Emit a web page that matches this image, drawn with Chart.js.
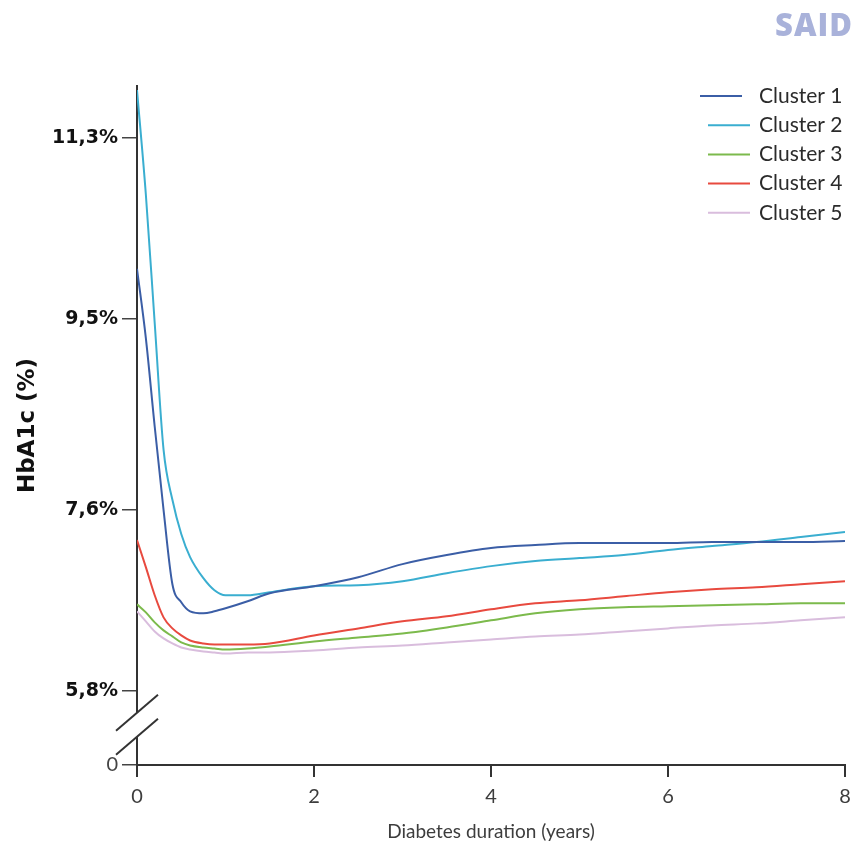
<!DOCTYPE html>
<html>
<head>
<meta charset="utf-8">
<title>HbA1c by cluster</title>
<script src="https://cdn.jsdelivr.net/npm/chart.js@4.4.0/dist/chart.umd.min.js"></script>
<style>
  body { margin: 0; background: #fff; overflow: hidden; }
  #wrap { position: relative; width: 851px; height: 843px; overflow: hidden; }
  #said { position: absolute; left: 775px; top: 3px; font-family: "Open Sans"; font-weight: 800; font-size: 31px; letter-spacing: 1px; color: #a9b2da; white-space: nowrap; }
</style>
</head>
<body>
<div id="wrap">
  <canvas id="myChart" width="851" height="843"></canvas>
  <div id="said">SAID</div>
</div>
<script>
// Global variables
var years = [0, 0.1, 0.2, 0.3, 0.4, 0.5, 0.6, 0.75, 0.875, 1, 1.25, 1.5, 2, 2.5, 3, 3.5, 4, 4.5, 5, 5.5, 6, 6.5, 7, 7.5, 8];

var cluster1 = [10.00, 9.31, 8.43, 7.60, 6.86, 6.68, 6.59, 6.57, 6.59, 6.62, 6.69, 6.77, 6.84, 6.93, 7.06, 7.15, 7.22, 7.25, 7.27, 7.27, 7.27, 7.28, 7.28, 7.28, 7.29];
var cluster2 = [11.78, 10.74, 9.46, 8.20, 7.70, 7.36, 7.13, 6.92, 6.80, 6.75, 6.75, 6.78, 6.84, 6.85, 6.89, 6.97, 7.04, 7.09, 7.12, 7.15, 7.20, 7.24, 7.28, 7.33, 7.38];
var cluster3 = [6.66, 6.58, 6.48, 6.40, 6.34, 6.28, 6.25, 6.23, 6.22, 6.21, 6.22, 6.24, 6.29, 6.33, 6.37, 6.43, 6.50, 6.57, 6.61, 6.63, 6.64, 6.65, 6.66, 6.67, 6.67];
var cluster4 = [7.30, 7.03, 6.75, 6.53, 6.42, 6.35, 6.30, 6.27, 6.26, 6.26, 6.26, 6.27, 6.35, 6.42, 6.49, 6.54, 6.61, 6.67, 6.70, 6.74, 6.78, 6.81, 6.83, 6.86, 6.89];
var cluster5 = [6.59, 6.49, 6.39, 6.32, 6.27, 6.23, 6.21, 6.19, 6.18, 6.17, 6.18, 6.18, 6.20, 6.23, 6.25, 6.28, 6.31, 6.34, 6.36, 6.39, 6.42, 6.45, 6.47, 6.50, 6.53];

var clusterNames = ['Cluster 1', 'Cluster 2', 'Cluster 3', 'Cluster 4', 'Cluster 5'];
var clusterColors = ['#3b5ea6', '#3aaed0', '#7cba4c', '#e84a3f', '#d9bddd'];

var yTicks = [5.8, 7.6, 9.5, 11.3];
var yTickLabels = ['5,8%', '7,6%', '9,5%', '11,3%'];
var yMin = 5.06;   // axis bottom, shown as "0" below the break
var yMax = 11.82;
var xTicks = [0, 2, 4, 6, 8];

//-----------------

function points(values){
    var out = [];
    for (var i = 0; i < years.length; i++) {
        out.push({x: years[i], y: values[i]});
    }
    return out;
}

// y axis break (the two slashes between 0 and 5,8%)
var axisBreak = {
    id: 'axisBreak',
    afterDraw: function(chart){
        var ctx = chart.ctx;
        var x0 = chart.chartArea.left;
        var mid = (chart.scales.y.getPixelForValue(yTicks[0]) + chart.chartArea.bottom) / 2;
        var cuts = [mid - 15, mid + 9];
        ctx.save();
        ctx.fillStyle = '#fff';
        ctx.fillRect(x0 - 4, cuts[0], 8, cuts[1] - cuts[0]);
        ctx.strokeStyle = '#333';
        ctx.lineWidth = 2;
        cuts.forEach(function(cy){
            ctx.beginPath();
            ctx.moveTo(x0 - 21, cy + 18);
            ctx.lineTo(x0 + 21, cy - 18);
            ctx.stroke();
        });
        ctx.restore();
    }
};

// legend in the top right corner of the plot
var clusterLegend = {
    id: 'clusterLegend',
    afterDraw: function(chart){
        var ctx = chart.ctx;
        var area = chart.chartArea;
        ctx.save();
        ctx.font = '21px Lato';
        ctx.textBaseline = 'middle';
        chart.data.datasets.forEach(function(ds, i){
            var y = area.top + 10 + i * 29.2;
            var start = i === 0 ? area.right - 145 : area.right - 137;
            ctx.strokeStyle = ds.borderColor;
            ctx.lineWidth = 2;
            ctx.beginPath();
            ctx.moveTo(start, y);
            ctx.lineTo(start + 42, y);
            ctx.stroke();
            ctx.fillStyle = '#2b2b2b';
            ctx.fillText(ds.label, area.right - 86, y);
        });
        ctx.restore();
    }
};

function graphicHbA1c(){
    var series = [cluster1, cluster2, cluster3, cluster4, cluster5];
    var datasets = series.map(function(values, i){
        return {
            label: clusterNames[i],
            data: points(values),
            borderColor: clusterColors[i],
            backgroundColor: clusterColors[i],
            borderWidth: 2,
            pointRadius: 0,
            cubicInterpolationMode: 'monotone',
            fill: false
        };
    });

    var ctx = document.getElementById('myChart').getContext('2d');
    var chart = new Chart(ctx, {
        type: 'line',
        data: { datasets: datasets },
        options: {
            responsive: false,
            animation: false,
            layout: { padding: { top: 86, right: 6, left: 0, bottom: 0 } },
            plugins: {
                legend: { display: false },
                tooltip: { enabled: false }
            },
            scales: {
                x: {
                    type: 'linear',
                    min: 0,
                    max: 8,
                    afterBuildTicks: function(scale){
                        scale.ticks = xTicks.map(function(v){ return {value: v}; });
                    },
                    afterFit: function(scale){
                        scale.height = 78;
                        scale.paddingLeft = 0;
                        scale.paddingRight = 0;
                    },
                    border: { color: '#333', width: 2 },
                    grid: { drawOnChartArea: false, drawTicks: true, tickLength: 12, color: '#333', lineWidth: 2 },
                    ticks: {
                        padding: 8,
                        maxRotation: 0,
                        color: '#3d3d3d',
                        font: { family: 'Lato', size: 20 }
                    },
                    title: {
                        display: true,
                        text: 'Diabetes duration (years)',
                        color: '#3d3d3d',
                        font: { family: 'Lato', size: 19 },
                        padding: { top: 2, bottom: 0 }
                    }
                },
                y: {
                    type: 'linear',
                    min: yMin,
                    max: yMax,
                    afterBuildTicks: function(scale){
                        var t = [{value: yMin}];
                        yTicks.forEach(function(v){ t.push({value: v}); });
                        scale.ticks = t;
                    },
                    afterFit: function(scale){
                        scale.width = 137;
                    },
                    border: { color: '#333', width: 2 },
                    grid: { drawOnChartArea: false, drawTicks: true, tickLength: 15, color: '#444', lineWidth: 1.5 },
                    ticks: {
                        padding: 4,
                        color: function(c){
                            return c.tick && c.tick.value === yMin ? '#444' : '#111';
                        },
                        font: function(c){
                            if (c.tick && c.tick.value === yMin) {
                                return { family: 'Lato', size: 20 };
                            }
                            return { family: 'DejaVu Sans', size: 19, weight: 'bold' };
                        },
                        callback: function(value){
                            if (value === yMin) return '0';
                            var i = yTicks.indexOf(value);
                            return i >= 0 ? yTickLabels[i] : '';
                        }
                    },
                    title: {
                        display: true,
                        text: 'HbA1c (%)',
                        color: '#111',
                        font: { family: 'DejaVu Sans', size: 23, weight: 'bold' },
                        padding: { top: 14, bottom: 0 }
                    }
                }
            }
        },
        plugins: [axisBreak, clusterLegend]
    });
}

graphicHbA1c();
</script>
</body>
</html>
